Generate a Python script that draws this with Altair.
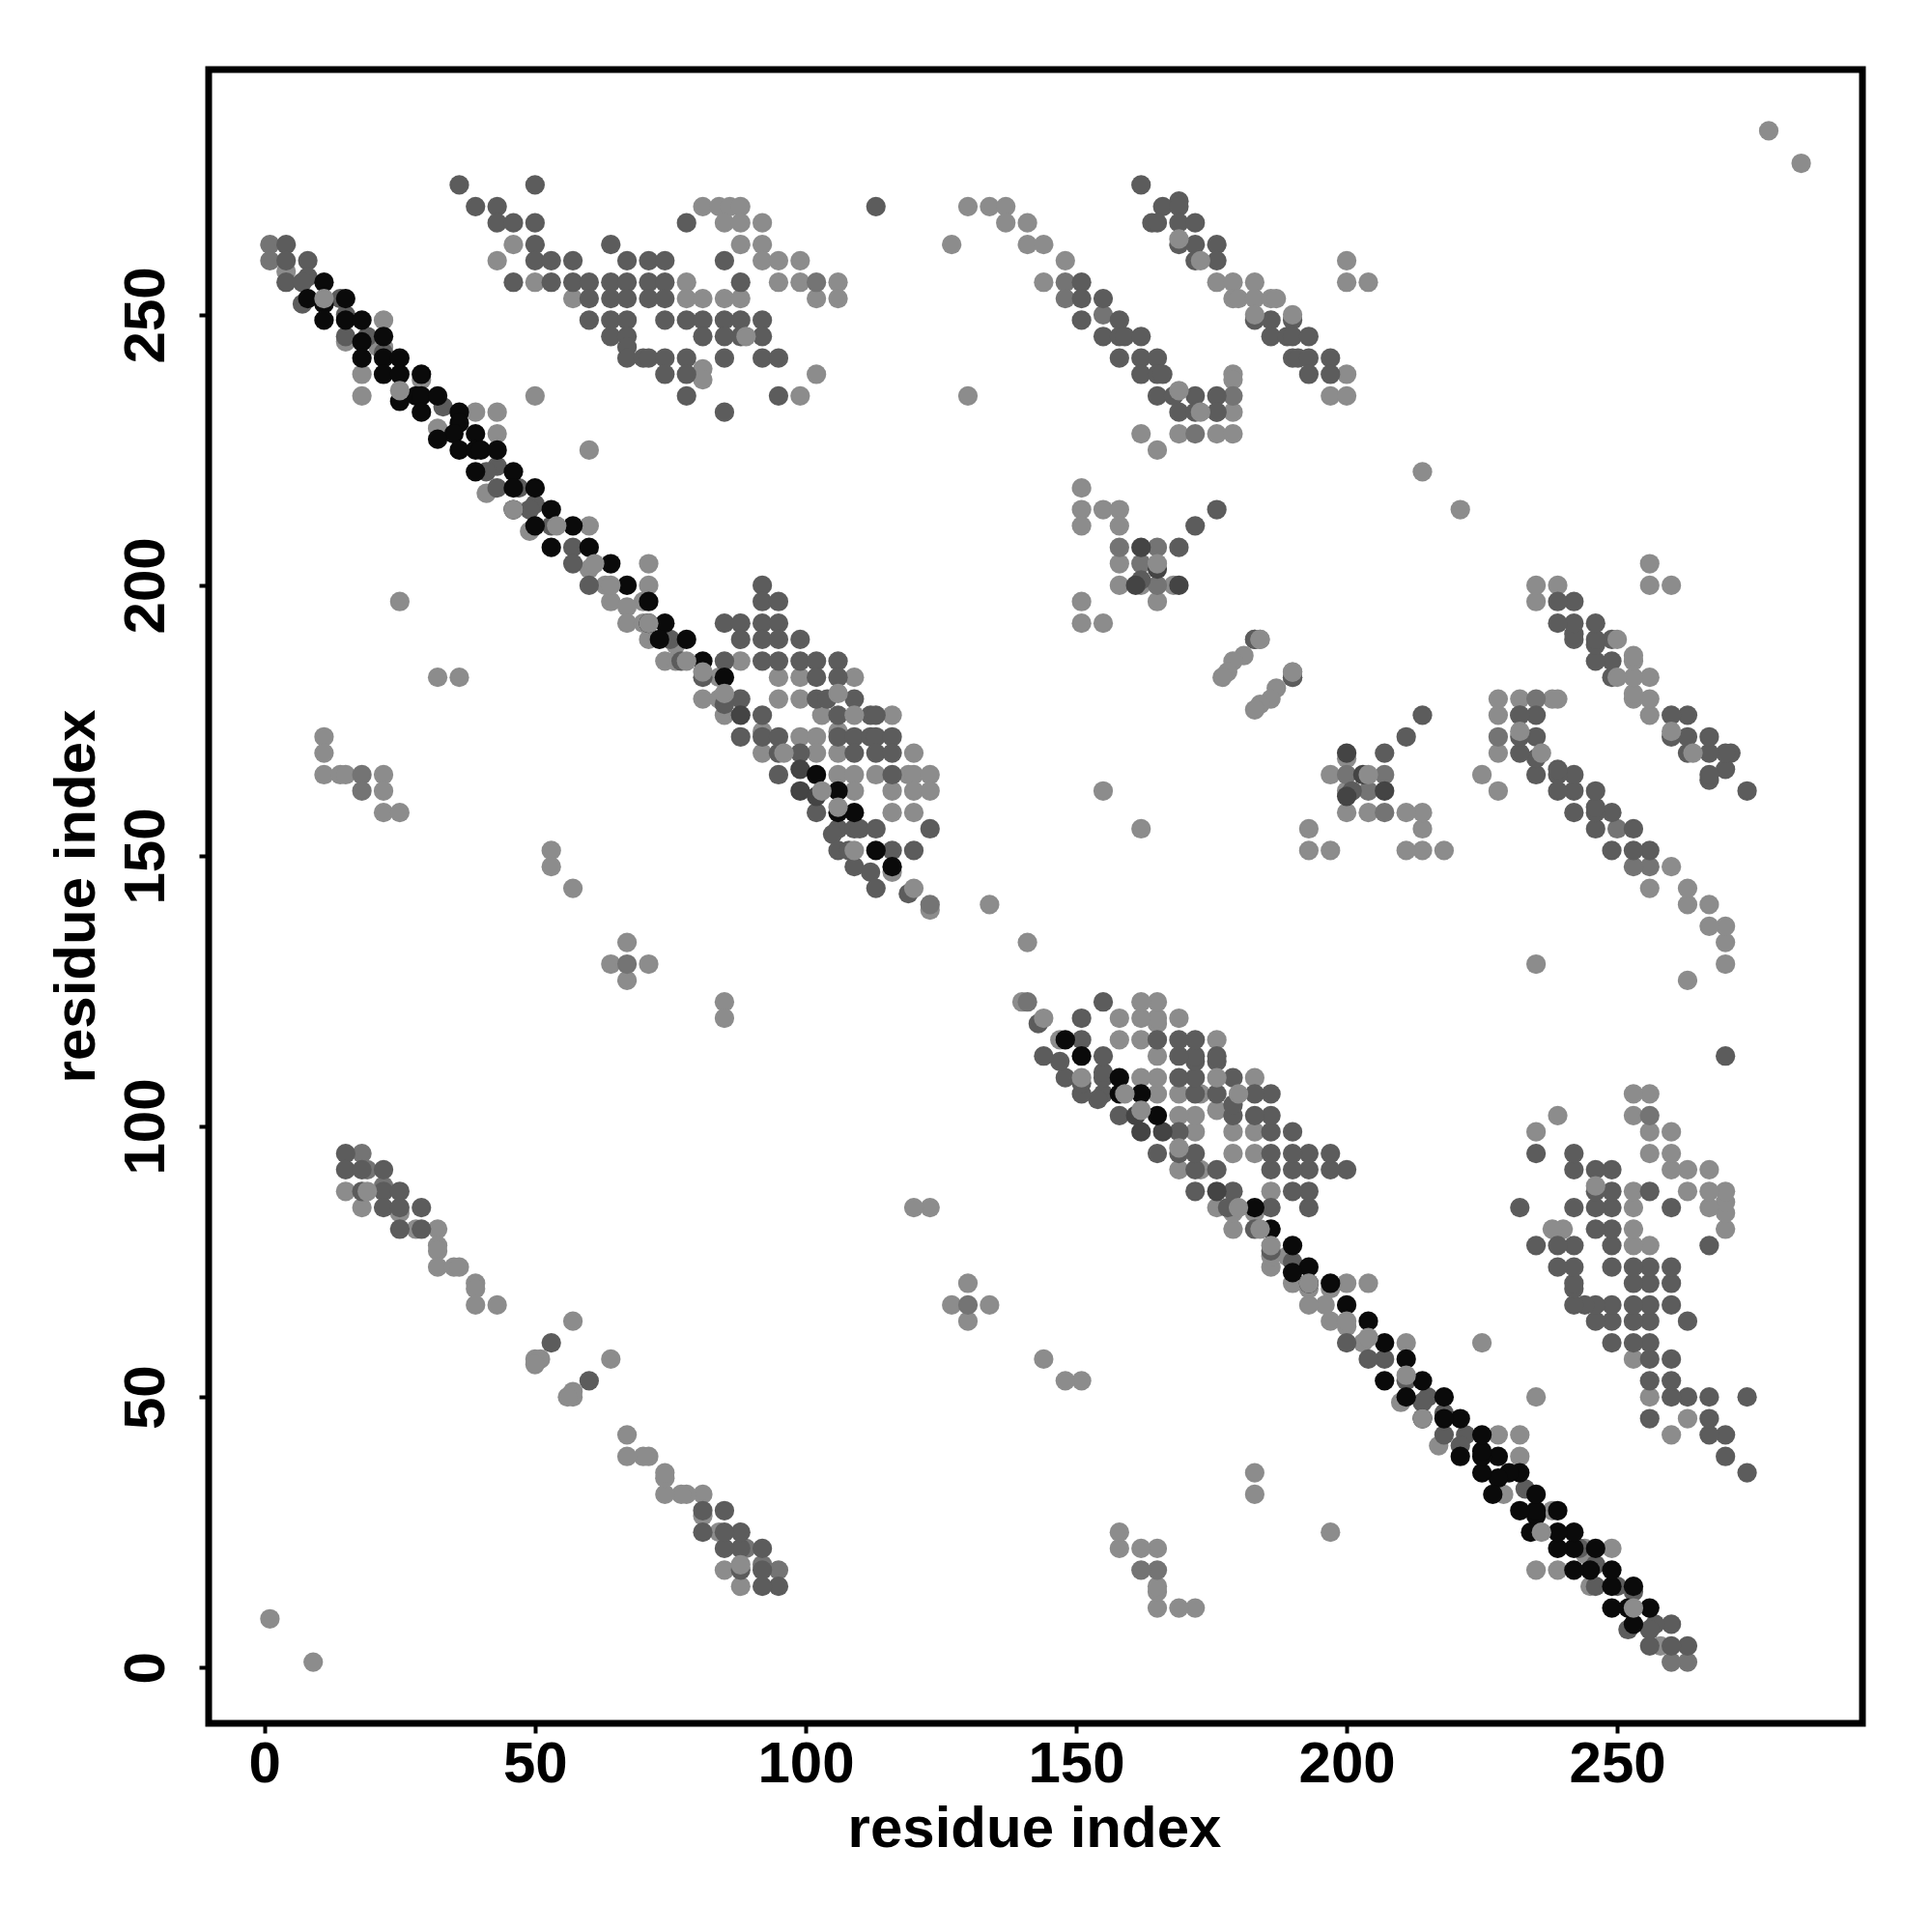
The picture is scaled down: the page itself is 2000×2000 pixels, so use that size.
import altair as alt
import pandas as pd

tick_values = [0, 50, 100, 150, 200, 250]
axis_title = "residue index"

# Each dict: y value -> x values, upper half of the symmetric contact map.
gray_rows = {
    284: [278], 270: [81, 84, 86, 88, 130, 134, 137], 267: [85, 88, 92, 137, 141],
    263: [46, 88, 92, 127, 141, 144], 260: [43, 92, 95, 99, 148, 200], 258: [4],
    256: [50, 78, 95, 99, 106, 144, 176, 179, 183, 200, 204],
    253: [57, 78, 81, 85, 88, 102, 106, 179, 180, 183, 186, 187],
    249: [22], 245: [15], 244: [21, 22], 240: [81], 239: [18, 102, 179, 200],
    238: [29, 81, 179], 235: [18, 50, 99, 130, 197, 200], 232: [39, 43, 179],
    229: [32], 228: [43, 162, 169, 176, 179], 225: [60, 165], 221: [214], 218: [151],
    217: [41], 214: [151, 155, 158], 211: [60, 151, 158], 210: [49],
    204: [71, 158], 203: [60], 200: [63, 71, 158, 162, 168],
    197: [25, 64, 70, 151, 165], 196: [67], 193: [67, 70, 151, 155], 190: [71],
    189: [76], 187: [181], 186: [74, 76, 88, 179],
    184: [178], 183: [32, 36, 84, 95, 99, 109, 177], 179: [81, 84, 95, 99],
    176: [85, 103, 116], 173: [92, 106], 172: [11, 99, 102],
    169: [11, 92, 102, 106, 120], 165: [11, 14, 15, 22, 106, 109, 113, 119, 120, 123],
    162: [22, 109, 116, 120, 123, 155], 158: [22, 25, 116, 120], 151: [53], 148: [53],
    147: [116], 144: [57], 141: [134], 140: [123], 134: [67], 130: [64, 71], 127: [67],
    123: [85], 120: [85], 88: [15], 85: [18], 84: [25], 81: [28, 32], 78: [32], 77: [32],
    74: [32, 35, 36], 71: [39], 70: [39], 67: [39, 43], 64: [57], 57: [50, 51], 56: [50],
    9: [1],
}
mid_rows = {
    263: [1], 260: [1], 256: [102, 148], 253: [148], 250: [155], 235: [179], 232: [176],
    228: [172], 207: [158, 165], 204: [162], 200: [165], 165: [18], 162: [18],
    141: [123], 130: [67], 95: [18], 92: [19], 89: [22],
}
dark_rows = {
    274: [36, 50, 162], 271: [169], 270: [39, 43, 113, 166, 169],
    267: [43, 46, 50, 78, 164, 165, 169, 172], 263: [4, 50, 64, 169, 172, 176],
    260: [4, 8, 50, 53, 57, 67, 71, 74, 85, 172, 176], 257: [8],
    256: [4, 7, 46, 53, 57, 60, 64, 67, 71, 74, 88, 151],
    253: [14, 60, 64, 67, 71, 74, 151, 155], 252: [7], 250: [15],
    249: [60, 64, 67, 74, 78, 81, 85, 88, 92, 151, 158, 183, 186, 190],
    246: [15, 19, 64, 67, 81, 85, 88, 92, 155, 158, 159, 162, 186, 189, 190, 193],
    244: [67], 243: [22], 242: [67, 70, 71, 74, 78, 85, 92, 95, 158, 162, 165, 190, 191, 193, 197],
    239: [74, 78, 162, 165, 166, 193, 197], 235: [78, 95, 165, 168, 172, 176],
    233: [33], 232: [85, 169, 172, 176], 222: [43], 221: [41], 218: [43, 47], 215: [50],
    214: [49, 176], 211: [53, 172], 207: [57, 169], 204: [57], 201: [162], 200: [60, 92],
    197: [92, 95], 193: [85, 88, 92, 95], 190: [75, 88, 92, 95, 99, 183],
    186: [77, 85, 92, 95, 99, 102, 106], 183: [81, 102, 106, 190],
    179: [88, 102, 104, 109], 178: [85], 176: [92, 106, 112, 113],
    172: [88, 92, 95, 106, 109, 112, 113, 116], 169: [95, 99, 109, 113, 116],
    165: [95, 116], 158: [102], 155: [106, 109, 110, 113, 123], 154: [105],
    151: [106, 108, 116, 120], 148: [109], 147: [112], 144: [113], 143: [119],
    95: [15], 92: [15, 18, 22], 88: [18, 22, 25], 85: [22, 25, 29], 81: [25, 29], 60: [53],
}
deep_rows = {
    207: [162], 203: [165], 200: [161, 169], 176: [88], 166: [99], 162: [99], 161: [102],
}
black_rows = {
    256: [11], 253: [8, 15], 252: [11], 249: [11, 15, 18], 246: [22], 245: [18],
    242: [18, 22, 25], 239: [22, 25, 29], 235: [28, 29, 32], 234: [25], 232: [29, 36],
    230: [36], 228: [35, 39], 227: [32], 225: [36, 39, 40, 43], 221: [39, 46],
    218: [46, 50], 214: [46, 53], 211: [50, 57], 207: [53, 60], 204: [64], 200: [67],
    197: [71], 193: [71, 74], 190: [73, 78], 186: [81], 183: [85], 165: [102],
    162: [106], 158: [106, 109], 151: [113], 148: [116],
}
gray_top_rows = {
    264: [169], 260: [173], 253: [11], 250: [183, 190], 246: [89], 236: [25, 169],
    232: [173], 214: [46], 211: [54], 204: [61, 165], 200: [64], 193: [71], 190: [184],
    186: [78], 184: [81, 190], 180: [85, 106], 176: [109], 169: [96], 162: [103],
    159: [106], 151: [109], 144: [120], 88: [19],
}

levels = [
    (gray_rows, "#8c8c8c"),
    (mid_rows, "#747474"),
    (dark_rows, "#5c5c5c"),
    (deep_rows, "#444444"),
    (black_rows, "#0a0a0a"),
    (gray_top_rows, "#8c8c8c"),
]

records = []
for rank, (rows, shade) in enumerate(levels):
    for y_value, x_values in rows.items():
        for x_value in x_values:
            records.append({"x": x_value, "y": y_value, "shade": shade, "rank": rank})
            records.append({"x": y_value, "y": x_value, "shade": shade, "rank": rank})
table = pd.DataFrame(records)

font = "Liberation Sans"
chart = (
    alt.Chart(table)
    .mark_circle(size=410, opacity=1)
    .encode(
        x=alt.X(
            "x:Q",
            scale=alt.Scale(domain=[-10.32, 295.32], nice=False, zero=False),
            axis=alt.Axis(
                values=tick_values, title=axis_title, grid=False, domain=False,
                tickColor="black", tickWidth=4, tickSize=10, labelPadding=3,
                labelFont=font, labelFontSize=60, labelFontWeight="bold", labelColor="black",
                labelFlush=False, labelOverlap=False,
                titleFont=font, titleFontSize=60, titleFontWeight="bold", titleColor="black",
                titleX=854.5, titleY=127, titleBaseline="alphabetic",
            ),
        ),
        y=alt.Y(
            "y:Q",
            scale=alt.Scale(domain=[-10.32, 295.32], nice=False, zero=False),
            axis=alt.Axis(
                values=tick_values, title=axis_title, grid=False, domain=False,
                tickColor="black", tickWidth=4, tickSize=10, labelPadding=37,
                labelAngle=270, labelAlign="center", labelBaseline="alphabetic",
                labelFont=font, labelFontSize=60, labelFontWeight="bold", labelColor="black",
                labelFlush=False, labelOverlap=False,
                titleFont=font, titleFontSize=60, titleFontWeight="bold", titleColor="black",
                titleX=-119, titleY=855.5, titleAngle=270, titleBaseline="alphabetic",
            ),
        ),
        color=alt.Color("shade:N", scale=None),
        order=alt.Order("rank:Q"),
    )
    .properties(
        width=1712,
        height=1712,
        padding={"left": 208, "top": 64, "right": 60, "bottom": 200},
        autosize=alt.AutoSizeParams(type="none"),
        background="white",
    )
    .configure_view(stroke="black", strokeWidth=7)
)

chart.save("out.html", embed_options={"renderer": "svg", "actions": False})
